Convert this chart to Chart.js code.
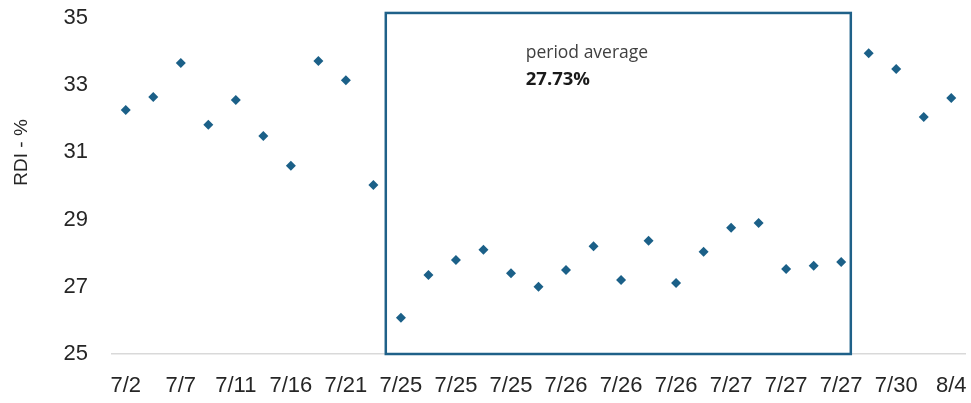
<!DOCTYPE html>
<html>
<head>
<meta charset="utf-8">
<script src="https://cdn.jsdelivr.net/npm/chart.js@4"></script>
<style>
  html, body { margin: 0; padding: 0; background: #fff; }
  #wrap { width: 971px; height: 403px; position: relative; }
</style>
</head>
<body>
<div id="wrap"><canvas id="rdiChart"></canvas></div>
<script>
// etiquetas visibles del eje x (una cada dos observaciones)
const tickLabels = ['7/2', '7/7', '7/11', '7/16', '7/21', '7/25', '7/25', '7/25',
  '7/26', '7/26', '7/26', '7/27', '7/27', '7/27', '7/30', '8/4'];

// RDI (%) por observación
const rdiValues = [
  32.26, 32.65, 33.66, 31.82, 32.56, 31.49, 30.60, 33.72, 33.15, 30.03,
  26.08, 27.35, 27.80, 28.10, 27.40, 27.00, 27.50, 28.21, 27.20, 28.37,
  27.11, 28.04, 28.76, 28.90, 27.53, 27.63, 27.74,
  33.95, 33.48, 32.05, 32.62
];

// periodo destacado (índices de observación) y su texto
const periodRange = [9.45, 26.35];
const periodTop = 35.15;
const periodTitle = 'period average';
const periodValue = '27.73%';
const yTitle = 'RDI - %';

const labels = rdiValues.map((v, i) => (i % 2 === 0 ? tickLabels[i / 2] : ''));

const ctx = document.getElementById('rdiChart').getContext('2d');

const periodBox = {
  id: 'periodBox',
  afterDatasetsDraw(chart) {
    const c = chart.ctx;
    const x = chart.scales.x;
    const y = chart.scales.y;
    const left = x.getPixelForValue(periodRange[0]);
    const right = x.getPixelForValue(periodRange[1]);
    const top = y.getPixelForValue(periodTop);
    const bottom = y.getPixelForValue(25);
    c.save();
    c.strokeStyle = '#1f6189';
    c.lineWidth = 2.5;
    c.strokeRect(left, top, right - left, bottom - top);

    const tx = x.getPixelForValue(14.5) + 1;
    c.textBaseline = 'middle';
    c.textAlign = 'left';
    c.fillStyle = '#404040';
    c.font = '17.5px "Open Sans", sans-serif';
    c.fillText(periodTitle, tx, top + 40);
    c.fillStyle = '#1a1a1a';
    c.font = 'bold 18.5px "Open Sans", sans-serif';
    c.fillText(periodValue, tx, top + 67);

    // título del eje y, algo por encima del centro como en el original
    c.translate(22, y.getPixelForValue(31));
    c.rotate(-Math.PI / 2);
    c.textAlign = 'center';
    c.fillStyle = '#262626';
    c.font = '19px "Liberation Sans", Arial, sans-serif';
    c.fillText(yTitle, 0, 0);
    c.restore();
  }
};

new Chart(ctx, {
  type: 'line',
  data: {
    labels: labels,
    datasets: [{
      label: 'RDI - %',
      data: rdiValues,
      showLine: false,
      pointStyle: 'rectRot',
      pointRadius: 5,
      pointBackgroundColor: '#1b6088',
      pointBorderColor: '#1b6088',
      pointBorderWidth: 0
    }]
  },
  options: {
    responsive: true,
    maintainAspectRatio: false,
    animation: false,
    layout: { padding: { top: 18, right: 6, left: 0, bottom: 0 } },
    scales: {
      x: {
        offset: true,
        grid: { display: false, drawTicks: false },
        border: { display: true, color: '#d9d9d9', width: 1.5 },
        ticks: {
          autoSkip: false,
          maxRotation: 0,
          minRotation: 0,
          padding: 19,
          color: '#262626',
          font: { family: '"Liberation Sans", Arial, sans-serif', size: 22 }
        },
        afterFit(scale) {
          scale.height = 49;
          scale.paddingLeft = 0;
          scale.paddingRight = 0;
        }
      },
      y: {
        min: 25,
        max: 35,
        grid: { display: false, drawTicks: false },
        border: { display: false },
        ticks: {
          stepSize: 2,
          padding: 24,
          color: '#262626',
          font: { family: '"Liberation Sans", Arial, sans-serif', size: 22 }
        },
        afterFit(scale) {
          scale.width = 112;
          scale.paddingTop = 0;
          scale.paddingBottom = 0;
        }
      }
    },
    plugins: {
      legend: { display: false },
      tooltip: { enabled: false }
    }
  },
  plugins: [periodBox]
});
</script>
</body>
</html>
